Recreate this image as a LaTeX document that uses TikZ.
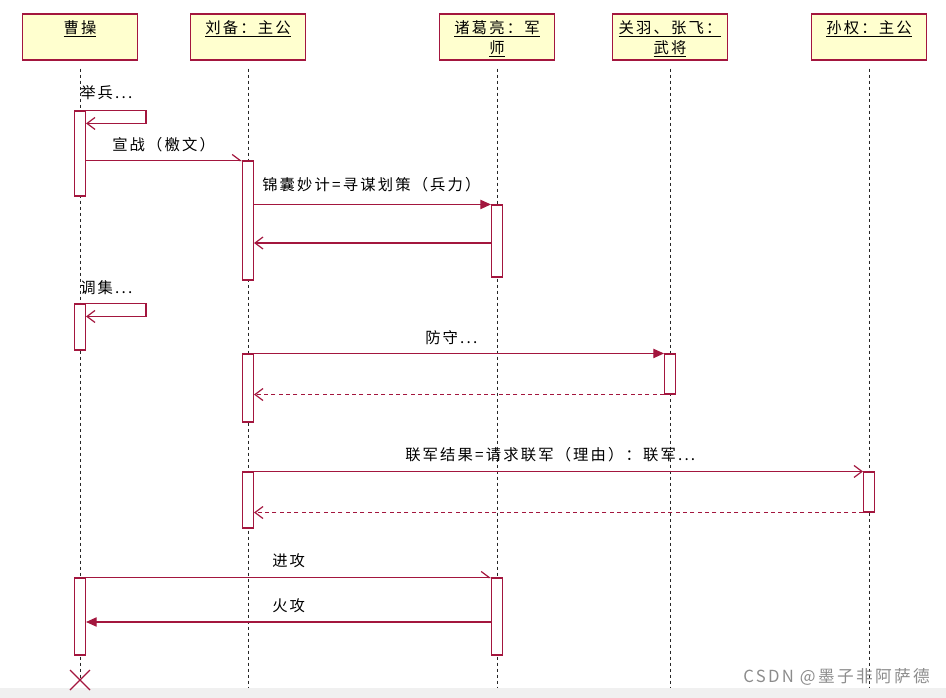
\documentclass[tikz,border=0pt]{standalone}
\usepackage{fontspec}
\setmainfont{Noto Sans CJK SC}[LetterSpace=14]
\usetikzlibrary{arrows.meta,positioning,fit}

\definecolor{umlred}{HTML}{A3163E}
\definecolor{umlyellow}{HTML}{FFFFCF}

\tikzset{
	hdr/.style={draw=umlred, fill=umlyellow, line width=0.9pt, minimum width=86pt, minimum height=34.5pt, inner sep=0pt},
	hdrtext/.style={align=center, font=\fontsize{11.5}{15}\selectfont, inner sep=0pt},
	lifeline/.style={dash pattern=on 2.5pt off 2pt, line width=0.75pt, black!85},
	act/.style={draw=umlred, fill=white, line width=0.8pt, inner sep=0pt},
	msg/.style={draw=umlred, line width=0.9pt},
	call/.style={msg, -{Triangle[length=8pt,width=7pt]}},
	ret/.style={msg, -{Straight Barb[length=6pt,width=9pt]}},
	half/.style={msg, -{Straight Barb[left,length=6pt,width=9pt]}},
	back/.style={ret, dash pattern=on 3pt off 2.5pt},
	lbl/.style={font=\fontsize{11.5}{13}\selectfont, inner sep=0pt, anchor=west},
}

\begin{document}
\begin{tikzpicture}[x=0.75pt, y=-0.75pt]
		\useasboundingbox (0,0) rectangle (946,698);
		\fill[black!6] (0,688) rectangle (946,698);

		\node[hdr] (cao) at (80,37) {};
		\node[hdr] (liu) at (248,37) {};
		\node[hdr] (zhu) at (497,37) {};
		\node[hdr] (guan) at (670,37) {};
		\node[hdr] (sun) at (869,37) {};

		\node[hdrtext, below=5pt of cao.north] (caoT) {\underline{曹操}};
		\node[hdrtext, below=5pt of liu.north] (liuT) {\underline{刘备：主公}};
		\node[hdrtext, below=5pt of zhu.north] (zhuT) {\underline{诸葛亮：军}\\\underline{师}};
		\node[hdrtext, below=5pt of guan.north] (guanT) {\underline{关羽、张飞：}\\\underline{武将}};
		\node[hdrtext, below=5pt of sun.north] (sunT) {\underline{孙权：主公}};

		\coordinate (caoEnd) at (80,680);
		\coordinate (liuEnd) at (248,688);
		\coordinate (zhuEnd) at (497,688);
		\coordinate (guanEnd) at (670,688);
		\coordinate (sunEnd) at (869,688);

		\draw[lifeline] ([yshift=-6pt]cao.south) -- (caoEnd);
		\draw[lifeline] ([yshift=-6pt]liu.south) -- (liuEnd);
		\draw[lifeline] ([yshift=-6pt]zhu.south) -- (zhuEnd);
		\draw[lifeline] ([yshift=-6pt]guan.south) -- (guanEnd);
		\draw[lifeline] ([yshift=-6pt]sun.south) -- (sunEnd);

		\node[act, fit={(74.5,111) (85.5,196)}] (cao1) {};
		\node[act, fit={(242.5,161) (253.5,280)}] (liu1) {};
		\node[act, fit={(491.5,205) (502.5,277)}] (zhu1) {};
		\node[act, fit={(74.5,304) (85.5,350)}] (cao2) {};
		\node[act, fit={(242.5,354) (253.5,422)}] (liu2) {};
		\node[act, fit={(664.5,354) (675.5,394)}] (guan1) {};
		\node[act, fit={(242.5,472) (253.5,528)}] (liu3) {};
		\node[act, fit={(863.5,472) (874.5,512)}] (sun1) {};
		\node[act, fit={(74.5,578) (85.5,655)}] (cao3) {};
		\node[act, fit={(491.5,578) (502.5,655)}] (zhu2) {};

		\coordinate (r1) at (0,243);
		\coordinate (r2) at (0,622);

		\draw[ret] (cao1.north east) -- ++(60,0) -- ++(0,13) -- ++(-60,0);
		\draw[half] (cao1.east |- liu1.north) -- (liu1.north west);
		\draw[call] (liu1.east |- zhu1.north) -- (zhu1.north west);
		\draw[ret] (zhu1.west |- r1) -- (liu1.east |- r1);
		\draw[ret] (cao2.north east) -- ++(60,0) -- ++(0,13) -- ++(-60,0);
		\draw[call] (liu2.north east) -- (guan1.north west);
		\draw[back] (guan1.south west) -- (liu2.east |- guan1.south);
		\draw[ret] (liu3.north east) -- (sun1.north west);
		\draw[back] (sun1.south west) -- (liu3.east |- sun1.south);
		\draw[half] (cao3.north east) -- (zhu2.north west);
		\draw[call] (zhu2.west |- r2) -- (cao3.east |- r2);

		\draw[umlred, line width=0.9pt] (caoEnd) +(-10,-10) -- +(10,10) (caoEnd) +(-10,10) -- +(10,-10);

		\node[lbl] (jubing) at (80,93) {举兵...};
		\node[lbl] (xuanzhan) at (112,145) {宣战（檄文）};
		\node[lbl] (jinnang) at (262,185) {锦囊妙计=寻谋划策（兵力）};
		\node[lbl] (diaoji) at (80,288) {调集...};
		\node[lbl] (fangshou) at (425,338) {防守...};
		\node[lbl] (lianjun) at (405,455) {联军结果=请求联军（理由）：联军...};
		\node[lbl] (jingong) at (272,561) {进攻};
		\node[lbl] (huogong) at (272,606) {火攻};

		\node[font=\fontsize{12.5}{14}\selectfont, text=black!45, inner sep=0pt, anchor=east] (mark) at (930,677) {CSDN @墨子非阿萨德};
	\end{tikzpicture}
\end{document}
